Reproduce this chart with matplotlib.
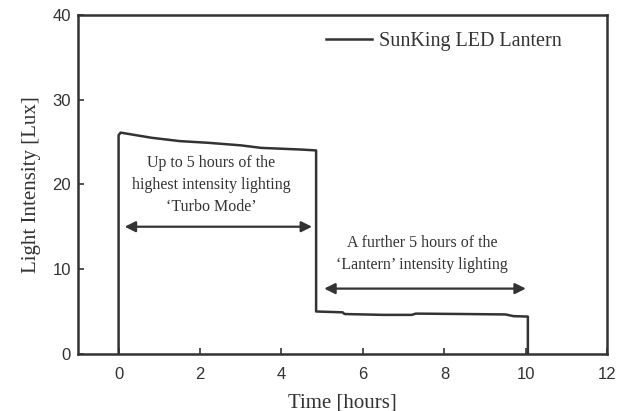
"""SunKing LED lantern discharge curve."""

import matplotlib

matplotlib.use("Agg")
import matplotlib.pyplot as plt

# light intensity
time_h = [0.0, 0.0, 0.05, 0.3, 0.8, 1.5, 2.2, 3.0, 3.5, 4.0, 4.5, 4.85,
          4.85, 5.5, 5.55, 6.5, 7.2, 7.3, 8.5, 9.5, 9.7, 10.05, 10.05]
lux = [0.0, 25.8, 26.1, 25.9, 25.5, 25.1, 24.9, 24.6, 24.3, 24.2, 24.1, 24.0,
       5.0, 4.9, 4.7, 4.6, 4.6, 4.75, 4.7, 4.65, 4.45, 4.4, 0.0]

xticks = [0, 2, 4, 6, 8, 10, 12]
yticks = [0, 10, 20, 30, 40]

turbo_span = (0.15, 4.75, 15.0)
lantern_span = (5.05, 10.0, 7.7)
turbo_text = "Up to 5 hours of the\nhighest intensity lighting\n\u2018Turbo Mode\u2019"
lantern_text = "A further 5 hours of the\n\u2018Lantern\u2019 intensity lighting"

SERIF = ["Liberation Serif", "DejaVu Serif"]
SANS = ["Liberation Sans", "DejaVu Sans"]
INK = "#333333"

fig = plt.figure(figsize=(6.28, 4.11), dpi=100)
ax = fig.add_axes([0.124, 0.139, 0.843, 0.825])

ax.plot(time_h, lux, color=INK, lw=1.8, label="SunKing LED Lantern")

for x0, x1, y in (turbo_span, lantern_span):
    ax.annotate("", xy=(x0, y), xytext=(x1, y),
                arrowprops=dict(arrowstyle="<|-|>", color=INK, lw=1.6,
                                mutation_scale=16, shrinkA=0, shrinkB=0))

ax.text(2.27, 19.9, turbo_text, ha="center", va="center", fontsize=11.5,
        family=SERIF, color=INK, linespacing=1.5)
ax.text(7.45, 11.8, lantern_text, ha="center", va="center", fontsize=11.5,
        family=SERIF, color=INK, linespacing=1.5)

ax.set_xlim(-1, 12)
ax.set_ylim(0, 40)
ax.set_xticks(xticks)
ax.set_yticks(yticks)
ax.tick_params(direction="in", length=4, width=1.2, colors=INK, labelsize=12)
ax.tick_params(axis="x", pad=9.5)
ax.tick_params(axis="y", pad=5)
for lbl in ax.get_xticklabels() + ax.get_yticklabels():
    lbl.set_family(SANS)
for sp in ax.spines.values():
    sp.set_linewidth(1.8)
    sp.set_color(INK)

ax.set_xlabel("Time [hours]", fontsize=15, family=SERIF, color=INK, labelpad=8)
ax.set_ylabel("Light Intensity [Lux]", fontsize=15, family=SERIF, color=INK,
              labelpad=8)

leg = ax.legend(loc="center left", bbox_to_anchor=(0.469, 0.92), frameon=False,
                prop={"family": SERIF, "size": 14.5}, handlelength=2.3,
                handletextpad=0.3, borderpad=0, borderaxespad=0)
for t in leg.get_texts():
    t.set_color(INK)

fig.savefig("out.png", dpi=100)
